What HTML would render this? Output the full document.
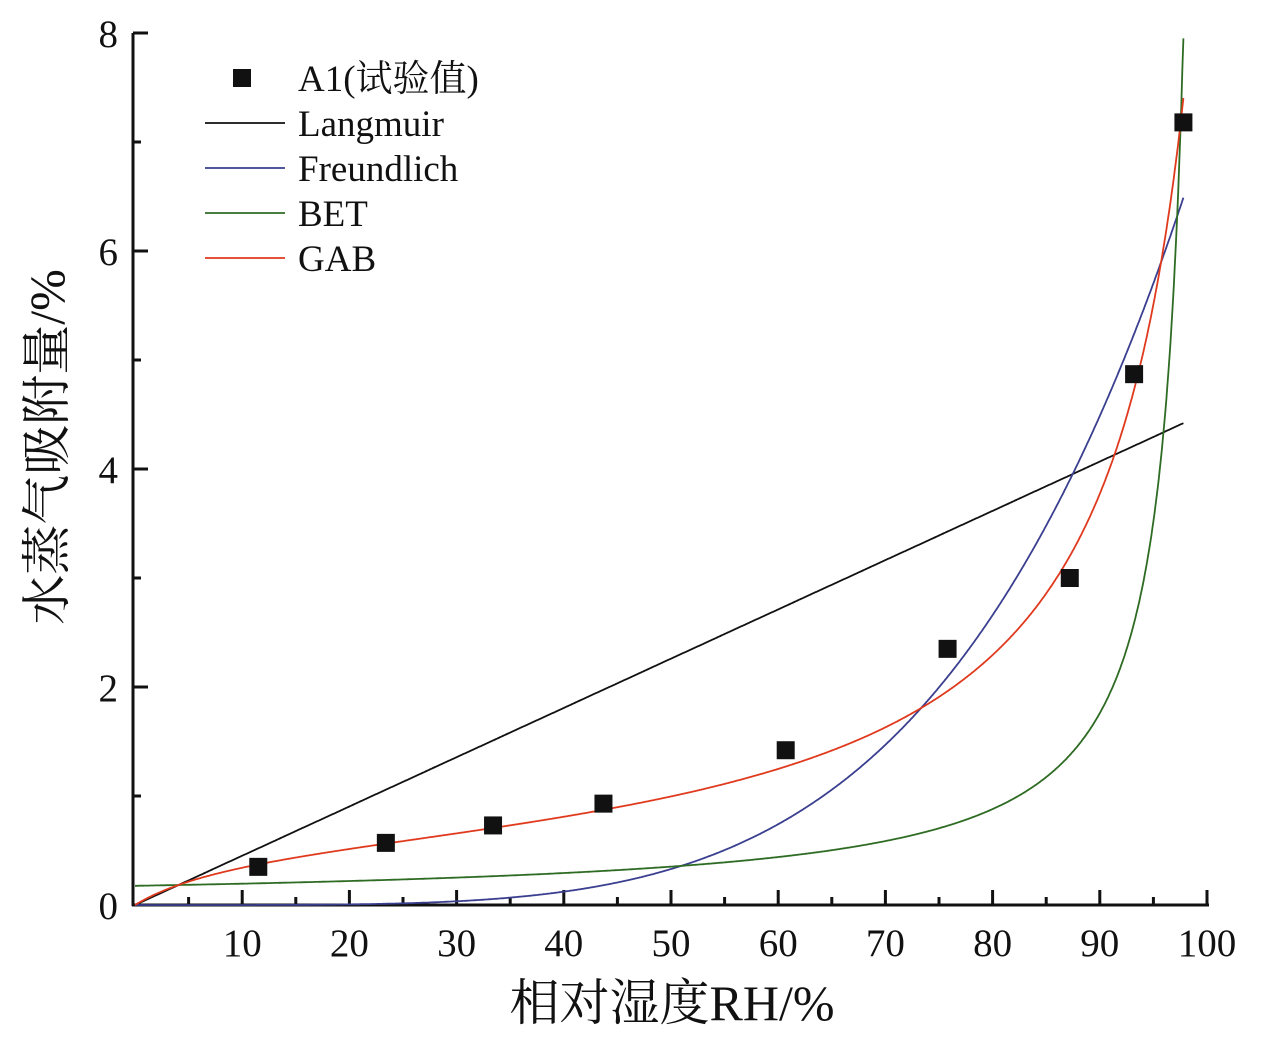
<!DOCTYPE html>
<html><head><meta charset="utf-8"><style>
body{margin:0;background:#fff;}
svg text{font-family:"Liberation Serif","Noto Serif CJK SC",serif;fill:#111;}
</style></head><body>
<svg id="chart" width="1266" height="1041">
<g id="axes"></g><g id="series"></g><g id="legend"></g>
</svg>
<script>
const xTicks=[10,20,30,40,50,60,70,80,90,100];
const yTicks=[0,2,4,6,8];
const obsRH=[11.5,23.4,33.4,43.7,60.7,75.8,87.2,93.2,97.8];
const obsW=[0.35,0.57,0.73,0.93,1.42,2.35,3.0,4.87,7.18];
const langmuirSlope=[0.0452];
const freundlichParams=[0.33,4.44];
const betParams=[0.176];
const gabParams=[0.58,11,0.943];
const seriesNames=["A1(试验值)","Langmuir","Freundlich","BET","GAB"];
const seriesColors=["#111","#111","#3a3f8f","#2e6b23","#e03a1e"];

const NS="http://www.w3.org/2000/svg";
const X=v=>135+v*10.72, Y=v=>905-v*109;
function el(t,a,p){const e=document.createElementNS(NS,t);for(const k in a)e.setAttribute(k,a[k]);p.appendChild(e);return e;}
const ax=document.getElementById('axes'), se=document.getElementById('series'), lg=document.getElementById('legend');

const ya=el('line',{x1:133,y1:33,x2:133,y2:906,stroke:'#111','stroke-width':3},ax);

const xa=el('line',{x1:132,y1:905,x2:1209,y2:905,stroke:'#111','stroke-width':3},ax);

for(let v=5;v<=100;v+=5){const l=el('line',{x1:X(v),x2:X(v),y1:905,y2:v%10?897:890,stroke:'#111','stroke-width':3},ax);
}
xTicks.forEach(v=>{const t=el('text',{x:X(v),y:956,'text-anchor':'middle','font-size':39},ax);t.textContent=v;
});
for(let v=1;v<=8;v++){const l=el('line',{x1:133,x2:v%2?141:148,y1:Y(v),y2:Y(v),stroke:'#111','stroke-width':3},ax);
}
yTicks.forEach(v=>{const t=el('text',{x:118,y:Y(v)+14,'text-anchor':'end','font-size':39},ax);t.textContent=v;
});
const xt=el('text',{x:672,y:1020,'text-anchor':'middle','font-size':50},ax);xt.textContent='相对湿度RH/%';

const yt=el('text',{x:0,y:0,'text-anchor':'middle','font-size':50,transform:'translate(64,447) rotate(-90)'},ax);yt.textContent='水蒸气吸附量/%';


const fns=[
 x=>langmuirSlope[0]*x,
 x=>freundlichParams[0]*Math.pow(x/50,freundlichParams[1]),
 x=>betParams[0]/(1-x/100),
 x=>{const h=x/100,[m,c,k]=gabParams,kh=k*h;return m*c*kh/((1-kh)*(1-kh+c*kh));}
];
const names=['langmuir-curve','freundlich-curve','bet-curve','gab-curve'];
const xMax=[97.8,97.8,98.0,97.8];
fns.forEach((f,i)=>{let d='';for(let x=0;x<=xMax[i]+1e-6;x+=0.1){let y=f(x);if(y>7.95)y=7.95;d+=(d?'L':'M')+X(x).toFixed(1)+','+Y(y).toFixed(1);if(y>=7.95)break;}
const p=el('path',{d:d,fill:'none',stroke:seriesColors[i+1],'stroke-width':1.8},se);
});
obsRH.forEach((x,i)=>{const r=el('rect',{x:X(x)-9,y:Y(obsW[i])-9,width:18,height:18,fill:'#111'},se);
});

seriesNames.forEach((n,i)=>{const y=78+i*45;
if(i==0){const r=el('rect',{x:233,y:y-9,width:18,height:18,fill:'#111'},lg);}
else{const l=el('line',{x1:205,x2:285,y1:y,y2:y,stroke:seriesColors[i],'stroke-width':1.8},lg);}
const t=el('text',{x:298,y:y+13,'font-size':37},lg);t.textContent=n;
});
</script>
</body></html>
